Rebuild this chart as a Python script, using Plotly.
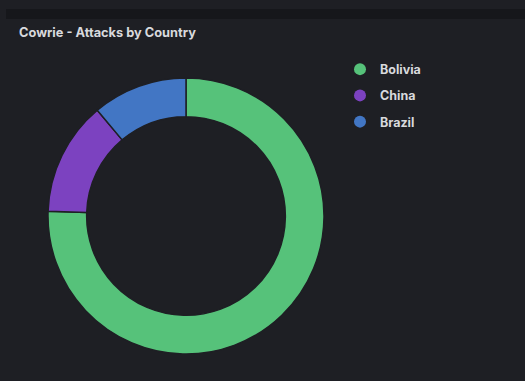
import plotly.graph_objects as go

countries = ["Bolivia", "China", "Brazil"]
attacks = [34, 6, 5]
colors = ["#56c27a", "#7c42c0", "#4276c4"]

W, H = 525, 381
PANEL = "#1e1f24"

fig = go.Figure()
fig.add_trace(go.Pie(
    labels=countries, values=attacks, sort=False, direction="clockwise", rotation=0,
    hole=0.72, marker=dict(colors=colors, line=dict(color=PANEL, width=1.5)),
    textinfo="none", hoverinfo="label+value", showlegend=False,
    domain=dict(x=[48 / W, 324 / W], y=[1 - 354 / H, 1 - 78 / H]),
))
for i, (c, col) in enumerate(zip(countries, colors)):
    fig.add_trace(go.Scatter(
        x=[None], y=[None], mode="markers", name=c, legendgroup=c,
        marker=dict(symbol="circle", size=12, color=col),
    ))

fig.update_layout(
    width=W, height=H, margin=dict(l=0, r=0, t=0, b=0),
    paper_bgcolor="white", plot_bgcolor=PANEL,
    xaxis=dict(visible=False), yaxis=dict(visible=False),
    font=dict(family="Inter", color="#d8d9dd"),
    legend=dict(x=(380 - 40) / W, y=1 - 54.5 / H, xanchor="left", yanchor="top",
                bgcolor="rgba(0,0,0,0)", tracegroupgap=7,
                font=dict(family="Inter", size=12.5, color="#d8d9dd", weight="bold")),
    shapes=[
        dict(type="rect", xref="paper", yref="paper", x0=6 / W, x1=1, y0=0, y1=1 - 9 / H,
             fillcolor="#16171b", line_width=0, layer="below"),
        dict(type="rect", xref="paper", yref="paper", x0=6 / W, x1=1, y0=0, y1=1 - 19 / H,
             fillcolor=PANEL, line_width=0, layer="below"),
    ],
    annotations=[dict(text="Cowrie - Attacks by Country", xref="paper", yref="paper",
                      x=17 / W, y=1 - 33 / H, xanchor="left", yanchor="middle", showarrow=False,
                      font=dict(family="Inter", size=12.8, color="#d8d9dd", weight="bold"))],
)
fig.write_html("out.html")
